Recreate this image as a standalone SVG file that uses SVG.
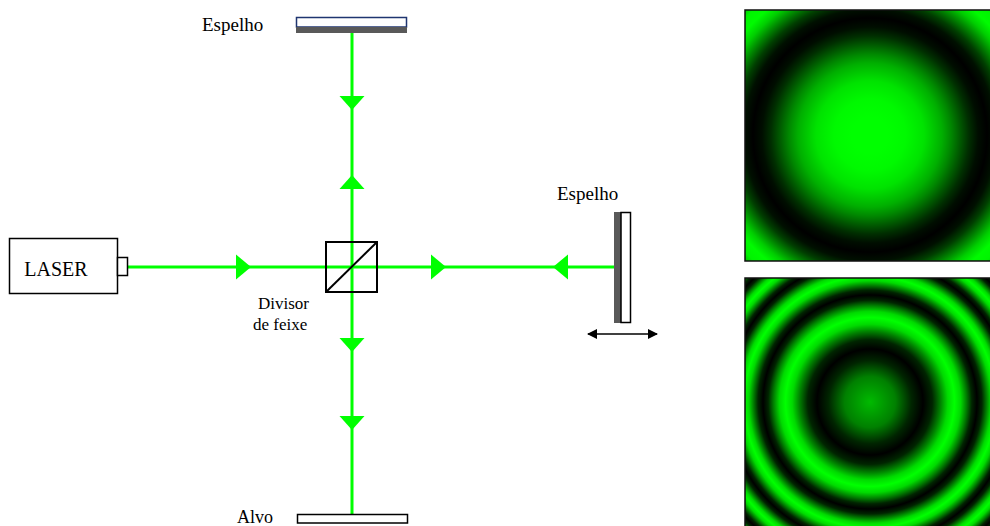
<svg xmlns="http://www.w3.org/2000/svg" width="990" height="526" viewBox="0 0 990 526">
  <style>
    .beam { stroke: #00ff00; stroke-width: 3; fill: none; }
    .head { fill: #00ff00; }
    .outline { fill: #fff; stroke: #000; stroke-width: 1.5; }
  </style>
  <defs>
    <marker id="blk" viewBox="0 0 10 10" refX="9" refY="5" markerWidth="10" markerHeight="10" markerUnits="userSpaceOnUse" orient="auto-start-reverse">
      <path d="M0,0 L10,5 L0,10 z" fill="#000"/>
    </marker>
    <!-- single bright fringe: I = cos^2 of a phase growing with r^2 -->
    <radialGradient id="fringeA" gradientUnits="userSpaceOnUse" cx="870" cy="135" r="180">
      <stop offset="0" stop-color="rgb(0,255,0)"/>
      <stop offset="0.1" stop-color="rgb(0,255,0)"/>
      <stop offset="0.2" stop-color="rgb(0,249,0)"/>
      <stop offset="0.3" stop-color="rgb(0,227,0)"/>
      <stop offset="0.4" stop-color="rgb(0,175,0)"/>
      <stop offset="0.45" stop-color="rgb(0,136,0)"/>
      <stop offset="0.5" stop-color="rgb(0,91,0)"/>
      <stop offset="0.55" stop-color="rgb(0,47,0)"/>
      <stop offset="0.6" stop-color="rgb(0,14,0)"/>
      <stop offset="0.65" stop-color="rgb(0,0,0)"/>
      <stop offset="0.7" stop-color="rgb(0,16,0)"/>
      <stop offset="0.75" stop-color="rgb(0,63,0)"/>
      <stop offset="0.8" stop-color="rgb(0,133,0)"/>
      <stop offset="0.85" stop-color="rgb(0,206,0)"/>
      <stop offset="0.9" stop-color="rgb(0,251,0)"/>
      <stop offset="0.95" stop-color="rgb(0,244,0)"/>
      <stop offset="1" stop-color="rgb(0,180,0)"/>
    </radialGradient>
    <!-- several rings after the mirror has moved -->
    <radialGradient id="fringeB" gradientUnits="userSpaceOnUse" cx="870" cy="402" r="180">
      <stop offset="0" stop-color="rgb(0,186,0)"/>
      <stop offset="0.1415" stop-color="rgb(0,128,0)"/>
      <stop offset="0.2310" stop-color="rgb(0,37,0)"/>
      <stop offset="0.2944" stop-color="rgb(0,0,0)"/>
      <stop offset="0.3465" stop-color="rgb(0,37,0)"/>
      <stop offset="0.3916" stop-color="rgb(0,128,0)"/>
      <stop offset="0.4321" stop-color="rgb(0,218,0)"/>
      <stop offset="0.4691" stop-color="rgb(0,255,0)"/>
      <stop offset="0.5034" stop-color="rgb(0,218,0)"/>
      <stop offset="0.5354" stop-color="rgb(0,128,0)"/>
      <stop offset="0.5657" stop-color="rgb(0,37,0)"/>
      <stop offset="0.5944" stop-color="rgb(0,0,0)"/>
      <stop offset="0.6218" stop-color="rgb(0,37,0)"/>
      <stop offset="0.6481" stop-color="rgb(0,128,0)"/>
      <stop offset="0.6733" stop-color="rgb(0,218,0)"/>
      <stop offset="0.6976" stop-color="rgb(0,255,0)"/>
      <stop offset="0.7211" stop-color="rgb(0,218,0)"/>
      <stop offset="0.7439" stop-color="rgb(0,128,0)"/>
      <stop offset="0.7660" stop-color="rgb(0,37,0)"/>
      <stop offset="0.7874" stop-color="rgb(0,0,0)"/>
      <stop offset="0.8083" stop-color="rgb(0,37,0)"/>
      <stop offset="0.8287" stop-color="rgb(0,128,0)"/>
      <stop offset="0.8485" stop-color="rgb(0,218,0)"/>
      <stop offset="0.8680" stop-color="rgb(0,255,0)"/>
      <stop offset="0.8870" stop-color="rgb(0,218,0)"/>
      <stop offset="0.9055" stop-color="rgb(0,128,0)"/>
      <stop offset="0.9238" stop-color="rgb(0,37,0)"/>
      <stop offset="0.9416" stop-color="rgb(0,0,0)"/>
      <stop offset="0.9592" stop-color="rgb(0,37,0)"/>
      <stop offset="0.9764" stop-color="rgb(0,128,0)"/>
      <stop offset="0.9933" stop-color="rgb(0,218,0)"/>
      <stop offset="1" stop-color="rgb(0,241,0)"/>
    </radialGradient>
  </defs>

  <rect width="990" height="526" fill="#fff"/>

  <!-- laser beam paths and direction heads -->
  <g id="connectors">
    <line class="beam" x1="128" y1="267" x2="614" y2="267"/>
    <line class="beam" x1="352" y1="33" x2="352" y2="514"/>
    <!-- horizontal heads -->
    <path class="head" d="M236,254.5 L251,267 L236,279.5 z"/>
    <path class="head" d="M431,254.5 L446,267 L431,279.5 z"/>
    <path class="head" d="M568,254.5 L553,267 L568,279.5 z"/>
    <!-- vertical heads -->
    <path class="head" d="M339.5,96 L364.5,96 L352,110 z"/>
    <path class="head" d="M339.5,189 L364.5,189 L352,175 z"/>
    <path class="head" d="M339.5,338 L364.5,338 L352,352 z"/>
    <path class="head" d="M339.5,416 L364.5,416 L352,430 z"/>
    <!-- mirror travel -->
    <line x1="588" y1="334" x2="657" y2="334" stroke="#000" stroke-width="1.5" marker-start="url(#blk)" marker-end="url(#blk)"/>
  </g>

  <g font-family="'Liberation Serif', 'Times New Roman', 'DejaVu Serif', serif" fill="#000">
    <g id="laser">
      <rect class="outline" x="9.5" y="238.5" width="108" height="55"/>
      <rect class="outline" x="117.5" y="257.5" width="10" height="18"/>
      <text x="56" y="276" font-size="20" text-anchor="middle">LASER</text>
    </g>

    <g id="splitter">
      <rect x="326" y="242" width="51" height="50" fill="none" stroke="#000" stroke-width="2"/>
      <line x1="326" y1="292" x2="377" y2="242" stroke="#000" stroke-width="2"/>
      <text x="258" y="309" font-size="17">Divisor</text>
      <text x="253" y="330" font-size="17">de feixe</text>
    </g>

    <g id="mirror-top">
      <rect x="296.5" y="17.5" width="110" height="9.5" fill="#fff" stroke="#1f3570" stroke-width="1.5"/>
      <rect x="296" y="27" width="111" height="6" fill="#595959"/>
      <text x="202" y="31" font-size="19">Espelho</text>
    </g>

    <g id="mirror-right">
      <rect x="614" y="212" width="7" height="111" fill="#595959"/>
      <rect class="outline" x="621" y="212.5" width="9.5" height="110"/>
      <text x="557" y="200" font-size="19">Espelho</text>
    </g>

    <g id="target">
      <rect class="outline" x="297.5" y="514.5" width="110" height="8.5"/>
      <text x="237" y="523" font-size="18">Alvo</text>
    </g>
  </g>

  <g id="pattern-before">
    <rect x="745" y="10" width="246" height="251" fill="url(#fringeA)" stroke="#111" stroke-width="1.5"/>
  </g>

  <g id="pattern-after">
    <rect x="745" y="278" width="246" height="249" fill="url(#fringeB)" stroke="#111" stroke-width="1.5"/>
  </g>
</svg>
